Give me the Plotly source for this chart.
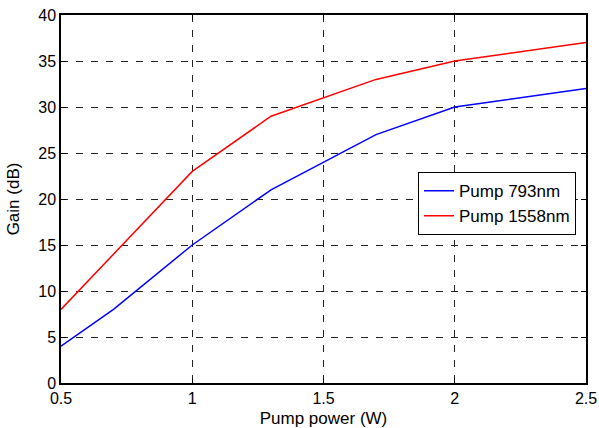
import plotly.graph_objects as go

pump_power = [0.5, 0.7, 1.0, 1.3, 1.7, 2.0, 2.5]
gain_793 = [4, 8, 15, 21, 27, 30, 32]
gain_1558 = [8, 14, 23, 29, 33, 35, 37]
x_ticks = [0.5, 1, 1.5, 2, 2.5]
x_tick_labels = ["0.5", "1", "1.5", "2", "2.5"]
y_ticks = [0, 5, 10, 15, 20, 25, 30, 35, 40]

family = "Liberation Sans, Arial, sans-serif"
tick_font = dict(family=family, size=16, color="black")
title_font = dict(family=family, size=17, color="black")

fig = go.Figure()
fig.add_trace(go.Scatter(x=pump_power, y=gain_793, mode="lines", name="Pump 793nm",
                         line=dict(color="#0000ff", width=1.5)))
fig.add_trace(go.Scatter(x=pump_power, y=gain_1558, mode="lines", name="Pump 1558nm",
                         line=dict(color="#ff0000", width=1.5)))

axis_common = dict(showline=True, linecolor="black", linewidth=1.5, mirror="ticks",
                   ticks="inside", ticklen=5, tickcolor="black", tickwidth=1,
                   showgrid=True, gridcolor="#222222", griddash="7px,8px", gridwidth=1,
                   zeroline=False, tickfont=tick_font, automargin=False)

fig.update_xaxes(range=[0.5, 2.5], tickvals=x_ticks, ticktext=x_tick_labels,
                 title=dict(text="Pump power (W)", font=title_font, standoff=7), **axis_common)
fig.update_yaxes(range=[0, 40], tickvals=y_ticks,
                 title=dict(text="Gain (dB)", font=title_font, standoff=14), **axis_common)

fig.update_layout(
    width=599, height=428,
    margin=dict(l=61, r=13, t=15, b=45),
    plot_bgcolor="white", paper_bgcolor="white",
    font=tick_font,
    showlegend=True,
    legend=dict(x=0.68, y=0.573, xanchor="left", yanchor="top",
                bgcolor="white", bordercolor="black", borderwidth=1,
                font=dict(family=family, size=17, color="black"),
                tracegroupgap=0, itemwidth=30),
)

fig.write_html("out.html")
